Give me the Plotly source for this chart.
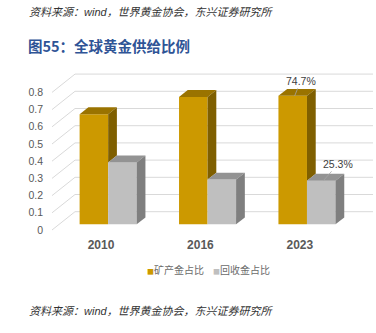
import plotly.graph_objects as go

# --- data ---
years = ["2010", "2016", "2023"]
mine_share = [0.64, 0.74, 0.747]      # 矿产金占比
recycle_share = [0.36, 0.26, 0.253]   # 回收金占比
value_ticks = [0, 0.1, 0.2, 0.3, 0.4, 0.5, 0.6, 0.7, 0.8]
label_text = {2: ("74.7%", "25.3%")}

series_names = ["矿产金占比", "回收金占比"]
front_colors = ["#CC9900", "#BFBFBF"]
top_colors = ["#9A7300", "#939393"]
side_colors = ["#7F5F00", "#7F7F7F"]

# --- page geometry (pixels) ---
W, H = 376, 333
ML, MR, MT, MB = 52, 3, 70, 101
PW, PH = W - ML - MR, H - MT - MB


def px_to_paper(px, py):
    return (px - ML) / PW, (H - MB - py) / PH


# --- oblique 3D projection parameters (axis units) ---
DEPTH_DX = 0.2316   # x shift for full floor depth
DEPTH_DY = 0.1064   # y shift for full floor depth
BAR_D0, BAR_D1 = 0.31, 0.69   # bar occupies this slice of the depth
BAR_W = 0.287
X_LEFT, X_RIGHT = -0.493, 2.736

sx = BAR_D0 * DEPTH_DX
sy = BAR_D0 * DEPTH_DY
bdx = (BAR_D1 - BAR_D0) * DEPTH_DX
bdy = (BAR_D1 - BAR_D0) * DEPTH_DY

fig = go.Figure()

# front faces
for k, vals in enumerate([mine_share, recycle_share]):
    centers = [i + sx + (k - 0.5) * BAR_W for i in range(len(years))]
    fig.add_trace(go.Bar(
        x=centers, y=vals, base=[sy] * len(vals), width=BAR_W,
        marker=dict(color=front_colors[k], line=dict(width=0)),
        name=series_names[k], showlegend=False, hoverinfo="skip",
    ))


def poly(xs, ys, color):
    fig.add_trace(go.Scatter(
        x=xs + [xs[0]], y=ys + [ys[0]], mode="lines", fill="toself",
        fillcolor=color, line=dict(width=0, color=color),
        showlegend=False, hoverinfo="skip",
    ))


# top and side faces
for i in range(len(years)):
    g = i + sx
    gold_top = mine_share[i] + sy
    gray_top = recycle_share[i] + sy
    # gold: top face, side face visible above the grey bar
    x0, x1 = g - BAR_W, g
    poly([x0, x1, x1 + bdx, x0 + bdx],
         [gold_top, gold_top, gold_top + bdy, gold_top + bdy], top_colors[0])
    poly([x1, x1, x1 + bdx, x1 + bdx],
         [gray_top, gold_top, gold_top + bdy, gray_top + bdy], side_colors[0])
    # grey: top and side faces
    x0, x1 = g, g + BAR_W
    poly([x0, x1, x1 + bdx, x0 + bdx],
         [gray_top, gray_top, gray_top + bdy, gray_top + bdy], top_colors[1])
    poly([x1, x1, x1 + bdx, x1 + bdx],
         [sy, gray_top, gray_top + bdy, sy + bdy], side_colors[1])

# back-wall and side-wall gridlines
shapes = []
grid = "#D9D9D9"
for v in value_ticks:
    shapes.append(dict(type="line", xref="x", yref="y", layer="below",
                       x0=X_LEFT, y0=v, x1=X_LEFT + DEPTH_DX, y1=v + DEPTH_DY,
                       line=dict(color=grid, width=1)))
    shapes.append(dict(type="line", xref="x", yref="y", layer="below",
                       x0=X_LEFT + DEPTH_DX, y0=v + DEPTH_DY, x1=X_RIGHT, y1=v + DEPTH_DY,
                       line=dict(color=grid, width=1)))

annotations = []
# value labels with leader lines
lab_font = dict(family="Liberation Sans, Arial", size=10.5, color="#404040")
for i, (t_gold, t_gray) in label_text.items():
    g = i + sx
    annotations.append(dict(
        x=g - BAR_W / 2 + 0.02, y=mine_share[i] + sy, xref="x", yref="y",
        text=t_gold, showarrow=True, arrowhead=0, arrowwidth=0.8,
        arrowcolor="#A6A6A6", ax=6, ay=-15, standoff=0, font=lab_font))
    annotations.append(dict(
        x=g + BAR_W / 2 + 0.02, y=recycle_share[i] + sy, xref="x", yref="y",
        text=t_gray, showarrow=True, arrowhead=0, arrowwidth=0.8,
        arrowcolor="#A6A6A6", ax=15, ay=-17, standoff=0, font=lab_font))


def page_text(px, py, text, font):
    x, y = px_to_paper(px, py)
    annotations.append(dict(x=x, y=y, xref="paper", yref="paper",
                            xanchor="left", yanchor="middle", showarrow=False,
                            text=text, font=font))


# legend
legend_font = dict(family="Noto Sans CJK SC", size=10, color="#6B6B6B")
for k, (xp, name) in enumerate(zip([145, 211], series_names)):
    page_text(xp, 269,
              f"<span style='color:{front_colors[k]};font-size:7px'>■</span>{name}",
              legend_font)

# title and source notes
source = "资料来源：<span style='font-family:Liberation Sans'>wind</span>，世界黄金协会，东兴证券研究所"
src_font = dict(family="Noto Sans CJK SC", size=11, color="#333333")
for yy in (11, 310):
    page_text(27, yy, f"<i>{source}</i>", src_font)
page_text(26, 45, "<b>图55：全球黄金供给比例</b>",
          dict(family="Noto Sans CJK SC", size=14.5, color="#2F5496"))

fig.update_layout(
    width=W, height=H,
    margin=dict(l=ML, r=MR, t=MT, b=MB),
    paper_bgcolor="white", plot_bgcolor="white",
    barmode="overlay", showlegend=False,
    shapes=shapes, annotations=annotations,
    xaxis=dict(range=[X_LEFT, X_RIGHT], tickvals=list(range(len(years))),
               ticktext=[f"<b>{y}</b>" for y in years], showgrid=False,
               zeroline=False, showline=False, ticks="", ticklabelstandoff=4,
               tickfont=dict(family="Liberation Sans, Arial", size=12, color="#595959")),
    yaxis=dict(range=[-0.0116, 0.9302], tickvals=value_ticks,
               ticktext=[f"{v:g}" for v in value_ticks], showgrid=False,
               zeroline=False, showline=False, ticks="", ticklabelstandoff=8,
               tickfont=dict(family="Liberation Sans, Arial", size=10.5, color="#595959")),
)

fig.write_html("out.html")
